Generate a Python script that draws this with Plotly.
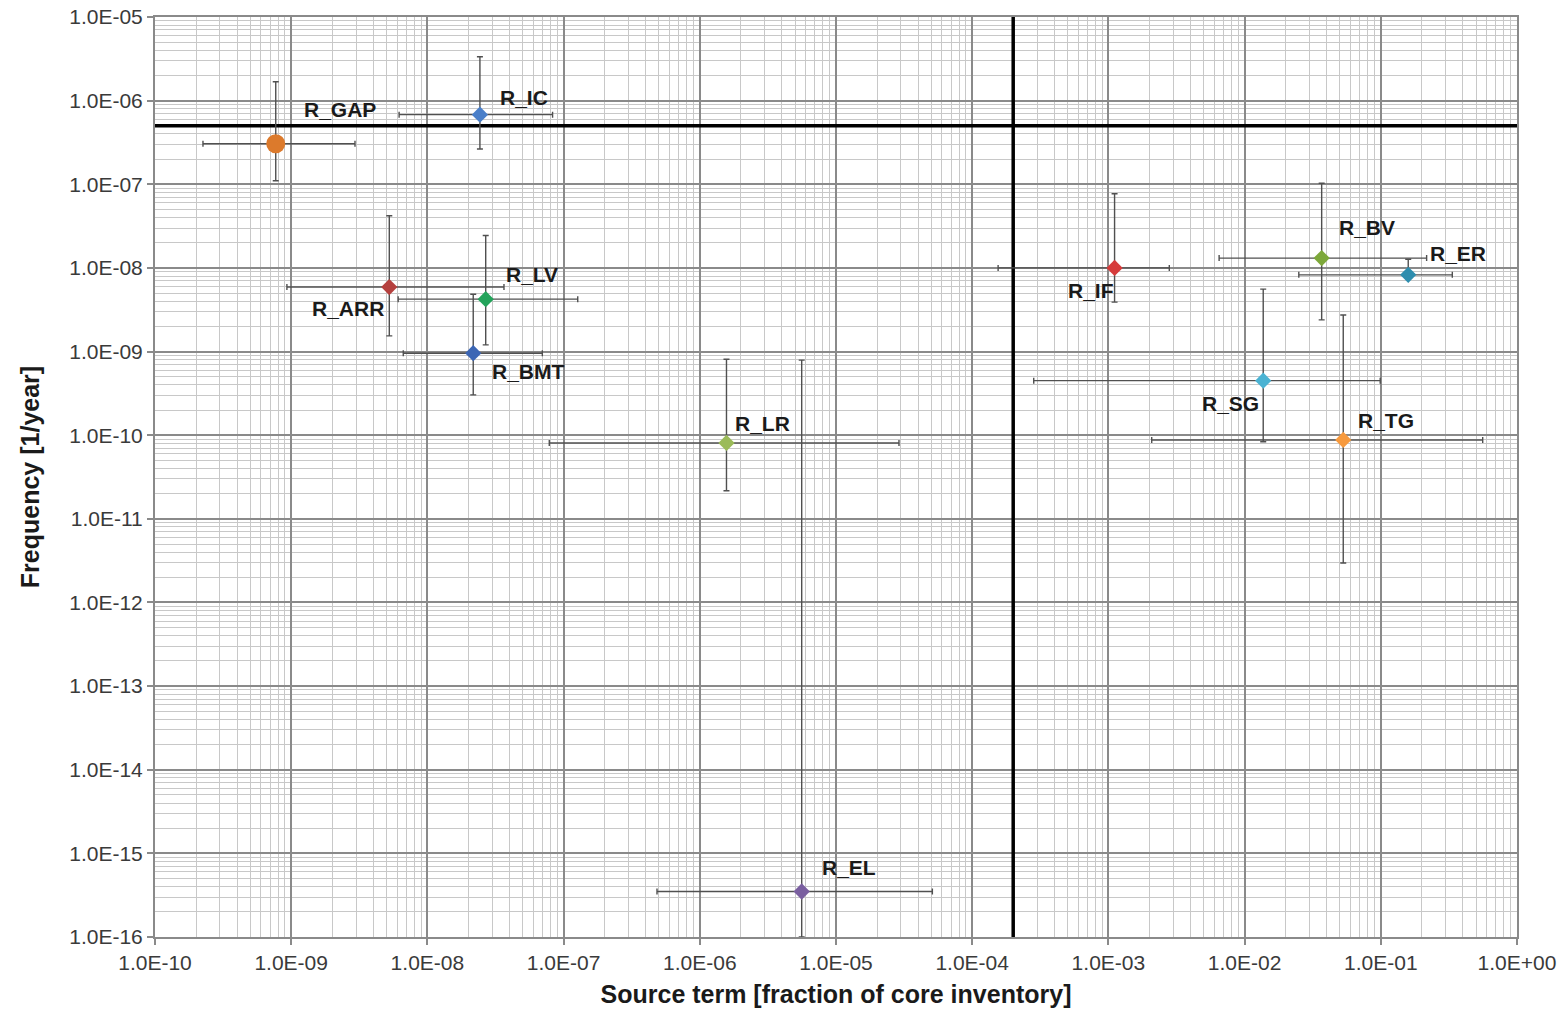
import numpy as np
import plotly.graph_objects as go

# ---------------- data ----------------
names = ["R_GAP", "R_IC", "R_ARR", "R_LV", "R_BMT", "R_LR", "R_EL",
         "R_IF", "R_BV", "R_ER", "R_SG", "R_TG"]
source_term = [7.7e-10, 2.43e-8, 5.25e-9, 2.68e-8, 2.17e-8, 1.57e-6, 5.6e-6,
               1.11e-3, 3.68e-2, 0.159, 1.37e-2, 5.3e-2]
source_lo = [2.25e-10, 6.2e-9, 9.3e-10, 6.1e-9, 6.65e-9, 7.85e-8, 4.85e-7,
             1.55e-4, 6.5e-3, 2.5e-2, 2.83e-4, 2.08e-3]
source_hi = [2.94e-9, 8.3e-8, 3.65e-8, 1.27e-7, 6.98e-8, 2.9e-5, 5.1e-5,
             2.8e-3, 0.217, 0.335, 0.099, 0.56]
frequency = [3.05e-7, 6.8e-7, 5.9e-9, 4.23e-9, 9.55e-10, 8.07e-11, 3.5e-16,
             1.0e-8, 1.31e-8, 8.26e-9, 4.49e-10, 8.77e-11]
freq_lo = [1.1e-7, 2.64e-7, 1.54e-9, 1.2e-9, 3.03e-10, 2.17e-11, 1.0e-16,
           3.9e-9, 2.39e-9, 7.5e-9, 8.36e-11, 2.96e-12]
freq_hi = [1.68e-6, 3.35e-6, 4.2e-8, 2.44e-8, 4.85e-9, 8.1e-10, 7.9e-10,
           7.7e-8, 1.03e-7, 1.27e-8, 5.57e-9, 2.74e-9]

# threshold lines
freq_limit = 5e-7
source_limit = 2e-4

x_tickvals = [1e-10, 1e-9, 1e-8, 1e-7, 1e-6, 1e-5, 1e-4, 1e-3, 1e-2, 1e-1, 1e0]
x_ticktext = ["1.0E-10", "1.0E-09", "1.0E-08", "1.0E-07", "1.0E-06", "1.0E-05",
              "1.0E-04", "1.0E-03", "1.0E-02", "1.0E-01", "1.0E+00"]
y_tickvals = [1e-16, 1e-15, 1e-14, 1e-13, 1e-12, 1e-11, 1e-10, 1e-9, 1e-8,
              1e-7, 1e-6, 1e-5]
y_ticktext = ["1.0E-16", "1.0E-15", "1.0E-14", "1.0E-13", "1.0E-12", "1.0E-11",
              "1.0E-10", "1.0E-09", "1.0E-08", "1.0E-07", "1.0E-06", "1.0E-05"]

# ---------------- styling ----------------
colors = ["#DC7A2C", "#4A7FC9", "#B5403E", "#23A35A", "#3C66B4", "#9BBB59",
          "#7A5FA0", "#D63B3B", "#7DA83A", "#2E8DAE", "#4BB3D3", "#F79A3E"]
symbols = ["circle"] + ["diamond"] * 11
sizes = [19] + [12.5] * 11
label_shift = [(64, 34), (44, 17), (-41, -21), (46, 25), (55, -18), (36, 19),
               (47, 24), (-24, -23), (45, 31), (50, 21), (-33, -23), (43, 19)]

FONT = "Liberation Sans, Arial"

fig = go.Figure()

# threshold lines
fig.add_trace(go.Scatter(x=[x_tickvals[0], x_tickvals[-1]], y=[freq_limit, freq_limit],
                         mode="lines", line=dict(color="black", width=3.5),
                         hoverinfo="skip", showlegend=False))
fig.add_trace(go.Scatter(x=[source_limit, source_limit], y=[y_tickvals[0], y_tickvals[-1]],
                         mode="lines", line=dict(color="black", width=3.5),
                         hoverinfo="skip", showlegend=False))

for i, n in enumerate(names):
    xv, yv = source_term[i], frequency[i]
    fig.add_trace(go.Scatter(
        x=[xv], y=[yv], mode="markers", name=n, showlegend=False,
        marker=dict(color=colors[i], symbol=symbols[i], size=sizes[i], line=dict(width=0)),
        error_x=dict(type="data", symmetric=False, array=[source_hi[i] - xv],
                     arrayminus=[xv - source_lo[i]], color="#505050", thickness=1.4, width=3),
        error_y=dict(type="data", symmetric=False, array=[freq_hi[i] - yv],
                     arrayminus=[yv - freq_lo[i]], color="#505050", thickness=1.4, width=3),
        cliponaxis=True,
    ))
    dx, dy = label_shift[i]
    fig.add_annotation(x=np.log10(xv), y=np.log10(yv), xref="x", yref="y", text=n,
                       showarrow=False, xshift=dx, yshift=dy,
                       font=dict(family=FONT, size=21, color="#1a1a1a", weight="bold"))

minor_x = [m * 10.0 ** k for k in range(-10, 0) for m in range(2, 10)]
minor_y = [m * 10.0 ** k for k in range(-16, -5) for m in range(2, 10)]

axis_common = dict(
    type="log", showline=True, mirror=True, linecolor="#8a8a8a", linewidth=2,
    showgrid=True, gridcolor="#8a8a8a", gridwidth=2,
    ticks="outside", ticklen=6, tickcolor="#8a8a8a", tickwidth=2,
    tickmode="array", zeroline=False, automargin=False,
    tickfont=dict(family=FONT, size=21, color="#3a3a3a"),
)

fig.update_xaxes(
    **axis_common, range=[-10, 0], tickvals=x_tickvals, ticktext=x_ticktext,
    minor=dict(tickvals=minor_x, showgrid=True, gridcolor="#c8c8c8", gridwidth=1, ticks=""),
    title=dict(text="Source term [fraction of core inventory]", standoff=12,
               font=dict(family=FONT, size=25, color="#1a1a1a", weight="bold")),
)
fig.update_yaxes(
    **axis_common, range=[-16, -5], tickvals=y_tickvals, ticktext=y_ticktext,
    minor=dict(tickvals=minor_y, showgrid=True, gridcolor="#c8c8c8", gridwidth=1, ticks=""),
    title=dict(text="Frequency [1/year]", standoff=22,
               font=dict(family=FONT, size=25, color="#1a1a1a", weight="bold")),
)

fig.update_layout(
    width=1564, height=1010,
    margin=dict(l=155, r=47, t=17, b=73),
    plot_bgcolor="white", paper_bgcolor="white",
    showlegend=False,
)

fig.write_html("out.html")
